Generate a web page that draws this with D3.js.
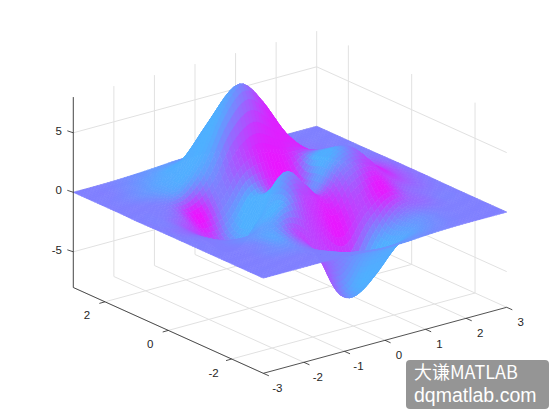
<!DOCTYPE html>
<html><head><meta charset="utf-8">
<script src="https://cdn.jsdelivr.net/npm/d3@7/dist/d3.min.js"></script>
<style>html,body{margin:0;padding:0;background:#fff}svg{display:block}</style>
</head><body><svg id="c" width="560" height="420"></svg>
<script>
const xGrid=[-3,-2.5,-2,-1.5,-1,-.5,0,.5,1,1.5,2,2.5,3];
const yGrid=[3,2.5,2,1.5,1,.5,0,-.5,-1,-1.5,-2,-2.5,-3];
const xTicks=[-3,-2,-1,0,1,2,3];
const yTicks=[-2,0,2];
const zTicks=[-5,0,5];
// heights, estimated; rows follow yGrid, columns follow xGrid
const heights=[
[0,0,.03,.1,.2,.32,.37,.3,.15,.05,.01,0,0],
[0,0,.03,.2,.69,1.47,1.88,1.47,.69,.2,.03,0,0],
[0,.01,.08,.56,2.1,4.56,5.86,4.56,2.2,.68,.13,.02,0],
[0,0,0,.47,2.6,6.2,8.0,6.2,3.25,1.18,.3,.05,0],
[-.03,-.1,-.5,-.85,.25,2.75,3.7,2.95,2.45,1.6,.55,.11,.01],
[-.01,-.27,-1.13,-2.45,-2.01,.39,.46,.36,2.39,2.56,1.09,.23,.03],
[0,-.29,-1.33,-2.74,-1.65,1.49,.98,.37,2.94,3.23,1.41,.29,.03],
[0,-.17,-.8,-1.19,.79,3.56,2,.37,2.21,2.53,1.12,.23,.03],
[0,-.05,-.13,.3,1.85,2.22,-.73,-2.23,-.27,.88,.5,.11,.01],
[0,.02,.08,.33,.15,-2.13,-5.67,-5.75,-2.63,-.44,.04,.02,0],
[0,.03,.05,.04,-.58,-2.62,-4.76,-4.35,-2.1,-.53,-.07,0,0],
[0,.01,.02,.01,-.23,-.92,-1.56,-1.41,-.69,-.19,-.03,0,0],
[0,0,0,0,-.03,-.13,-.25,-.22,-.11,-.03,0,0,0]];
// colour value on the cool ramp
const tones=[
[.5,.5,.48,.44,.4,.42,.48,.55,.57,.54,.5,.5,.5],
[.5,.5,.45,.38,.32,.32,.42,.68,.75,.65,.54,.5,.5],
[.5,.48,.42,.34,.32,.32,.36,.75,.8,.72,.55,.5,.5],
[.5,.5,.48,.4,.33,.35,.5,.82,.85,.78,.58,.5,.5],
[.5,.5,.58,.92,.52,.68,.85,.88,.8,.8,.75,.6,.52],
[.5,.52,.72,.72,.38,.32,.8,.85,.32,.55,.88,.72,.53],
[.5,.58,.68,.55,.32,.32,.72,.5,.32,.55,.88,.7,.53],
[.5,.52,.55,.42,.32,.42,.72,.8,.55,.72,.78,.62,.52],
[.5,.5,.44,.38,.34,.7,.82,.88,.72,.9,.62,.55,.5],
[.5,.5,.47,.36,.72,.72,.6,.34,.34,.55,.58,.5,.5],
[.5,.5,.46,.45,.6,.55,.34,.32,.32,.42,.5,.5,.5],
[.5,.5,.5,.5,.5,.45,.36,.34,.36,.44,.49,.5,.5],
[.5,.5,.5,.5,.49,.47,.42,.42,.45,.48,.5,.5,.5]];

const svg=d3.select("#c");
const sxX=d3.scaleLinear().domain([-3,3]).range([168.3,411.7]);
const sxY=d3.scaleLinear().domain([-3,3]).range([95,-95]);
const syX=d3.scaleLinear().domain([-3,3]).range([235.2,169.2]);
const syY=d3.scaleLinear().domain([-3,3]).range([42.9,-42.9]);
const syZ=d3.scaleLinear().domain([-8,8]).range([95.2,-95.2]);
const P=(x,y,z)=>[sxX(x)+sxY(y),syX(x)+syY(y)+syZ(z)];
const cool=d3.scaleLinear().domain([0,1]).range(["#00ffff","#ff00ff"]);
const toneOf=t=>cool(Math.max(.31,Math.min(.95,t)));
const line=d3.line();

// grid
const gridLines=[];
xTicks.forEach(x=>{gridLines.push([P(x,-3,-8),P(x,3,-8)]);gridLines.push([P(x,3,-8),P(x,3,8)]);});
yTicks.forEach(y=>{gridLines.push([P(-3,y,-8),P(3,y,-8)]);gridLines.push([P(3,y,-8),P(3,y,8)]);});
zTicks.forEach(z=>{gridLines.push([P(-3,3,z),P(3,3,z)]);gridLines.push([P(3,3,z),P(3,-3,z)]);});
svg.append("g").selectAll("path").data(gridLines).join("path").attr("d",line)
 .attr("fill","none").attr("stroke","#e1e1e1").attr("stroke-width",1);

// smooth sampling of the tables for interpolated shading
function cr(a,b,c,d,t){return .5*(2*b+(c-a)*t+(2*a-5*b+4*c-d)*t*t+(3*b-a-3*c+d)*t*t*t);}
const uS=d3.scaleLinear().domain([-3,3]).range([0,xGrid.length-1]);
const vS=d3.scaleLinear().domain([3,-3]).range([0,yGrid.length-1]);
function sample(tab,x,y){
 const u=uS(x),v=vS(y);
 const i=Math.min(Math.floor(u),xGrid.length-2),j=Math.min(Math.floor(v),yGrid.length-2);
 const cl=(a,n)=>Math.max(0,Math.min(n-1,a));
 const col=[];
 for(let m=-1;m<3;m++){const r=tab[cl(j+m,yGrid.length)];
  col.push(cr(r[cl(i-1,13)],r[cl(i,13)],r[cl(i+1,13)],r[cl(i+2,13)],u-i));}
 return cr(col[0],col[1],col[2],col[3],v-j);
}
const N=72,cells=[];
const f=d3.scaleLinear().domain([0,N]).range([-3,3]);
for(let a=0;a<N;a++)for(let b=0;b<N;b++){
 const x0=f(a),x1=f(a+1),y0=f(b),y1=f(b+1);
 const q=[[x0,y0],[x1,y0],[x1,y1],[x0,y1]].map(([x,y])=>P(x,y,sample(heights,x,y)));
 const cx=(x0+x1)/2,cy=(y0+y1)/2;
 cells.push({q,c:toneOf(sample(tones,cx,cy)),d:syX(cx)+syY(cy)});
}
cells.sort((p,q)=>p.d-q.d);
svg.append("g").selectAll("path").data(cells).join("path")
 .attr("d",d=>line(d.q)+"Z").attr("fill",d=>d.c).attr("stroke",d=>d.c).attr("stroke-width",.7).attr("stroke-linejoin","round");

// axes
const ink="#262626";
const ax=svg.append("g").attr("fill","none").attr("stroke",ink).attr("stroke-width",.8);
ax.append("path").attr("d",line([P(-3,3,8),P(-3,3,-8),P(-3,-3,-8),P(3,-3,-8)]));
xTicks.forEach(x=>{const p=P(x,-3,-8);ax.append("path").attr("d",line([p,[p[0]+5.6,p[1]+2.5]]));});
yTicks.forEach(y=>{const p=P(-3,y,-8);ax.append("path").attr("d",line([p,[p[0]-5.6,p[1]+1.6]]));});
zTicks.forEach(z=>{const p=P(-3,3,z);ax.append("path").attr("d",line([p,[p[0]-6,p[1]-2]]));});
const tx=svg.append("g").attr("font-family","Liberation Sans, Arial, sans-serif").attr("font-size",11.5).attr("fill",ink);
xTicks.forEach(x=>{const p=P(x,-3,-8);tx.append("text").attr("x",p[0]+14).attr("y",p[1]+18.5).attr("text-anchor","middle").text(x);});
yTicks.forEach(y=>{const p=P(-3,y,-8);tx.append("text").attr("x",p[0]-18).attr("y",p[1]+17.5).attr("text-anchor","middle").text(y);});
zTicks.forEach(z=>{const p=P(-3,3,z);tx.append("text").attr("x",62).attr("y",p[1]+2).attr("text-anchor","end").text(z);});

// watermark
svg.append("rect").attr("x",406).attr("y",360).attr("width",143).attr("height",49).attr("rx",4).attr("fill","#959595");
const wm=svg.append("g").attr("fill","#fff");
wm.append("text").attr("x",414).attr("y",378.5).attr("font-family","Noto Sans CJK SC, sans-serif").attr("font-size",18).text("大谦MATLAB");
wm.append("text").attr("x",414).attr("y",401.5).attr("font-family","Liberation Sans, sans-serif").attr("font-size",19.5).text("dqmatlab.com");
</script></body></html>
